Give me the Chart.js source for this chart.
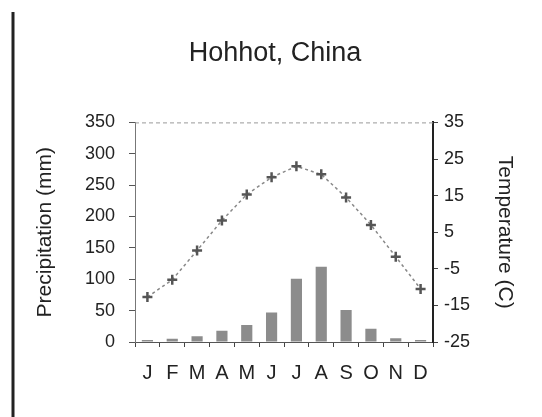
<!DOCTYPE html>
<html>
<head>
<meta charset="utf-8">
<script src="https://cdn.jsdelivr.net/npm/chart.js@4"></script>
<style>
html,body{margin:0;padding:0;background:#fff;}
#wrap{width:542px;height:417px;position:relative;}
</style>
</head>
<body>
<div id="wrap"><canvas id="c" width="542" height="417"></canvas></div>
<script>
const months = ['J','F','M','A','M','J','J','A','S','O','N','D'];
const precipitation = [3, 5, 9, 18, 27, 47, 101, 120, 51, 21, 6, 3];
const temperature = [-12.7, -8, 0, 8.2, 15.3, 20, 23, 20.8, 14.5, 7, -1.7, -10.5];
const precipTicks = [0, 50, 100, 150, 200, 250, 300, 350];
const tempTicks = [-25, -15, -5, 5, 15, 25, 35];

const FONT = '"Liberation Sans", Arial, sans-serif';

const frame = {
  id: 'frame',
  beforeDraw(chart) {
    const ctx = chart.ctx;
    ctx.save();
    ctx.fillStyle = '#fff';
    ctx.fillRect(0, 0, chart.width, chart.height);
    ctx.restore();
  },
  afterDraw(chart) {
    const ctx = chart.ctx, a = chart.chartArea;
    ctx.save();
    ctx.strokeStyle = '#222';
    ctx.lineWidth = 3;
    ctx.beginPath(); ctx.moveTo(13, 12); ctx.lineTo(13, 417); ctx.stroke();
    ctx.strokeStyle = '#999';
    ctx.lineWidth = 1;
    ctx.setLineDash([4, 3]);
    ctx.beginPath(); ctx.moveTo(a.left, a.top + 0.5); ctx.lineTo(a.right, a.top + 0.5); ctx.stroke();
    ctx.restore();
  }
};

new Chart(document.getElementById('c'), {
  data: {
    labels: months,
    datasets: [
      {
        type: 'line',
        label: 'Temperature',
        data: temperature,
        yAxisID: 'y1',
        borderColor: '#888',
        borderWidth: 1.5,
        borderDash: [3, 3],
        pointStyle: 'cross',
        pointRadius: 5,
        pointBorderWidth: 2.5,
        pointBorderColor: '#555',
        pointBackgroundColor: '#555',
        tension: 0,
        order: 1
      },
      {
        type: 'bar',
        label: 'Precipitation',
        data: precipitation,
        yAxisID: 'y',
        backgroundColor: '#8c8c8c',
        borderWidth: 0,
        barPercentage: 0.5,
        categoryPercentage: 0.9,
        order: 2
      }
    ]
  },
  options: {
    responsive: false,
    animation: false,
    layout: { padding: { left: 33, right: 25, top: 0, bottom: 0 } },
    plugins: {
      legend: { display: false },
      tooltip: { enabled: false },
      title: {
        display: true,
        text: 'Hohhot, China',
        color: '#222',
        font: { family: FONT, size: 27, weight: 'normal' },
        padding: { top: 37, bottom: 53 }
      }
    },
    scales: {
      x: {
        offset: true,
        grid: { display: true, offset: true, drawOnChartArea: false, tickLength: 5, color: '#444' },
        border: { display: true, color: '#555', dash: [5, 3] },
        ticks: { color: '#222', font: { family: FONT, size: 20 }, padding: 14, maxRotation: 0, autoSkip: false },
        afterFit(s) { s.height = 75; }
      },
      y: {
        position: 'left',
        min: 0, max: 350,
        afterBuildTicks(s) { s.ticks = precipTicks.map(v => ({ value: v })); },
        grid: { drawOnChartArea: false, tickLength: 6, color: '#555' },
        border: { display: true, color: '#777', dash: [2, 2] },
        ticks: { color: '#222', font: { family: FONT, size: 18 }, padding: 14 },
        title: { display: true, text: 'Precipitation (mm)', color: '#222', font: { family: FONT, size: 21 }, padding: 0 },
        afterFit(s) { s.width = 102; }
      },
      y1: {
        position: 'right',
        min: -25, max: 35,
        afterBuildTicks(s) { s.ticks = tempTicks.map(v => ({ value: v })); },
        grid: { drawOnChartArea: false, tickLength: 5, color: '#444' },
        border: { display: true, color: '#222', width: 2 },
        ticks: { color: '#222', font: { family: FONT, size: 18 }, padding: 6 },
        title: { display: true, text: 'Temperature (C)', color: '#222', font: { family: FONT, size: 21 }, padding: 0 },
        afterFit(s) { s.width = 84; }
      }
    }
  },
  plugins: [frame]
});
</script>
</body>
</html>
